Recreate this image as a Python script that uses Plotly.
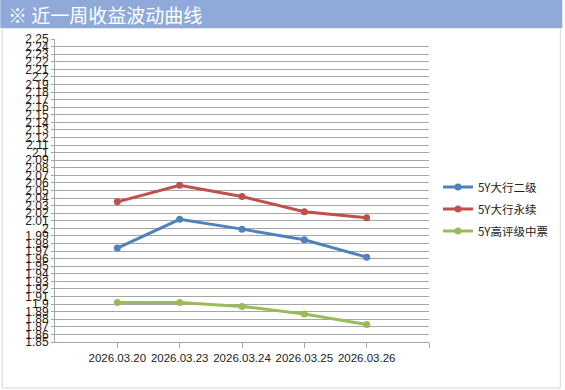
import plotly.graph_objects as go

dates = ["2026.03.20", "2026.03.23", "2026.03.24", "2026.03.25", "2026.03.26"]
x_pos = [1, 2, 3, 4, 5]
series_names = ["5Y大行二级", "5Y大行永续", "5Y高评级中票"]
blue_vals = [1.974, 2.012, 1.999, 1.985, 1.962]
red_vals = [2.035, 2.057, 2.042, 2.022, 2.014]
green_vals = [1.902, 1.902, 1.897, 1.887, 1.873]
colors = ["#4F81BD", "#C0504D", "#9BBB59"]

y_ticks = [round(1.85 + 0.01 * i, 2) for i in range(41)]
y_text = [("%g" % v) for v in y_ticks]

W, H = 565, 390
ML, MR, MT, MB = 55, 134, 39, 48
pw = W - ML - MR
ph = H - MT - MB


def px(xp):
    return (xp - ML) / pw


def py(yp):
    return (H - MB - yp) / ph


fig = go.Figure()
for name, vals, col in zip(series_names, [blue_vals, red_vals, green_vals], colors):
    fig.add_trace(go.Scatter(
        x=x_pos, y=vals, name=name, mode="lines+markers",
        legendgroup=name,
        line=dict(color=col, width=3),
        marker=dict(color=col, size=7),
    ))

fig.update_layout(
    width=W, height=H,
    margin=dict(l=ML, r=MR, t=MT, b=MB),
    paper_bgcolor="white", plot_bgcolor="white",
    font=dict(family="Liberation Sans, Arial", size=12, color="#222222"),
    showlegend=True,
    legend=dict(
        x=px(440), y=py(209), xanchor="left", yanchor="middle",
        font=dict(family="Noto Sans CJK SC", size=11.5, color="#222222"),
        tracegroupgap=3, bgcolor="rgba(0,0,0,0)",
    ),
    xaxis=dict(
        range=[0, 6], tickmode="array", tickvals=x_pos + [6], ticktext=dates + [""],
        showgrid=False, showline=True, linecolor="#A6A6A6", linewidth=1,
        ticks="outside", ticklen=5, tickcolor="#A6A6A6", zeroline=False,
        tickfont=dict(family="Liberation Sans, Arial", size=11.5, color="#222222"),
        fixedrange=True,
    ),
    yaxis=dict(
        range=[1.85, 2.25], tickmode="array", tickvals=y_ticks, ticktext=y_text,
        showgrid=True, gridcolor="#A6A6A6", gridwidth=1,
        showline=True, linecolor="#A6A6A6", linewidth=1,
        ticks="outside", ticklen=3, tickcolor="#A6A6A6", zeroline=False,
        tickfont=dict(family="Liberation Sans, Arial", size=12, color="#222222"),
        fixedrange=True,
    ),
    shapes=[
        dict(type="rect", xref="paper", yref="paper",
             x0=px(2), x1=px(563), y0=py(388), y1=py(28),
             line=dict(color="#D4D4DC", width=1), fillcolor="rgba(0,0,0,0)", layer="below"),
        dict(type="rect", xref="paper", yref="paper",
             x0=px(0), x1=px(565), y0=py(28), y1=py(0),
             line=dict(width=0), fillcolor="#8FAAD8", layer="below"),
    ],
    annotations=[
        dict(text="※ 近一周收益波动曲线", xref="paper", yref="paper",
             x=px(6), y=py(14), xanchor="left", yanchor="middle", showarrow=False,
             font=dict(family="Noto Sans CJK SC", size=19, color="white")),
    ],
)

fig.write_html("out.html")
